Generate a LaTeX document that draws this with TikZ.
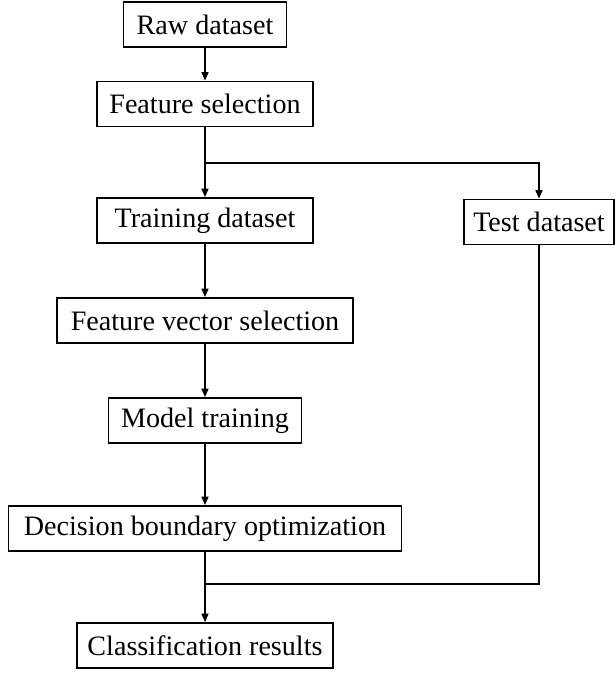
\documentclass[tikz,border=0pt]{standalone}
\usepackage{fontspec}
\setmainfont{Liberation Serif}
\usetikzlibrary{arrows.meta}
\tikzstyle{stage} = [draw=black, line width=1pt, rectangle, minimum height=0.9cm, inner sep=0pt, font={\fontsize{16}{19}\selectfont}]
\tikzstyle{wire} = [draw=black, line width=0.9pt]
\tikzstyle{flow} = [wire, -{Triangle[length=1.7mm,width=1.4mm]}]

\begin{document}
\begin{tikzpicture}[x=0.02cm,y=-0.02cm]
        \useasboundingbox (0,0) rectangle (615,675);
        \node[stage,minimum width=3.26cm](raw) at (205,24.5){Raw dataset};
        \node[stage,minimum width=4.32cm](featsel) at (205,104){Feature selection};
        \node[stage,minimum width=4.32cm](train) at (205,220.5){Training dataset};
        \node[stage,minimum width=3.0cm](test) at (539,222){Test dataset};
        \node[stage,minimum width=5.92cm](vecsel) at (205,320.5){Feature vector selection};
        \node[stage,minimum width=3.86cm](model) at (205,420.5){Model training};
        \node[stage,minimum width=7.86cm](decision) at (205,528.5){Decision boundary optimization};
        \node[stage,minimum width=5.12cm](result) at (205,645.5){Classification results};
        \coordinate (split) at (205,163);
        \coordinate (merge) at (205,584);
        \draw[flow](raw)--(featsel);
        \draw[wire](featsel)--(split);
        \draw[flow](split)--(train);
        \draw[flow](split)-|(test);
        \draw[flow](train)--(vecsel);
        \draw[flow](vecsel)--(model);
        \draw[flow](model)--(decision);
        \draw[wire](decision)--(merge);
        \draw[wire](test)|-(merge);
        \draw[flow](merge)--(result);
      \end{tikzpicture}
\end{document}
